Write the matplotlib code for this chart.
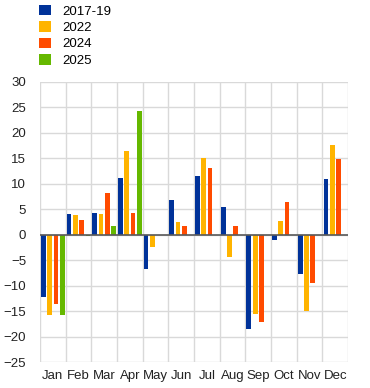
import numpy as np
import matplotlib
matplotlib.use("Agg")
import matplotlib.pyplot as plt
from matplotlib.patches import Patch

plt.rcParams['font.family'] = ['Liberation Sans', 'DejaVu Sans']

# === Data ===
months = ["Jan", "Feb", "Mar", "Apr", "May", "Jun", "Jul", "Aug", "Sep", "Oct", "Nov", "Dec"]
v_2017_19 = [-12.2, 4.1, 4.3, 11.2, -6.7, 6.9, 11.6, 5.5, -18.6, -1.0, -7.8, 11.0]
v_2022 = [-15.8, 3.8, 4.0, 16.5, -2.5, 2.4, 15.1, -4.3, -15.5, 2.7, -15.0, 17.6]
v_2024 = [-13.7, 2.9, 8.2, 4.3, 0.0, 1.8, 13.1, 1.8, -17.2, 6.5, -9.5, 14.9]
v_2025 = [-15.8, -0.3, 1.8, 24.3, np.nan, np.nan, np.nan, np.nan, np.nan, np.nan, np.nan, np.nan]

series = [("2017-19", v_2017_19, "#003299"),
          ("2022", v_2022, "#FFB400"),
          ("2024", v_2024, "#FF4B00"),
          ("2025", v_2025, "#65B800")]

# === Figure ===
fig = plt.figure(figsize=(3.7, 3.88), dpi=100)
ax = fig.add_axes([0.108, 0.067, 0.833, 0.722])

x = np.arange(len(months)) + 0.5
step = 0.245
for i, (label, vals, color) in enumerate(series):
    ax.bar(x + (i - 1.5) * step, vals, width=0.185, color=color, zorder=3)

ax.set_xlim(0, 12)
ax.set_ylim(-25, 30)
ax.set_yticks(np.arange(-25, 31, 5))
ax.set_xticks(x)
ax.set_xticklabels(months)
ax.set_xticks(np.arange(0, 13), minor=True)

ax.grid(True, axis='y', color='#d9d9d9', linewidth=1, zorder=0)
ax.grid(True, axis='x', which='minor', color='#d9d9d9', linewidth=1, zorder=0)
ax.axhline(0, color='#595959', linewidth=1.2, zorder=4)

for s in ax.spines.values():
    s.set_visible(False)
ax.tick_params(axis='both', which='both', length=0, labelsize=9.5, colors='#222222')
ax.tick_params(axis='x', pad=6)
ax.tick_params(axis='y', pad=10)

handles = [Patch(facecolor=c, label=l) for l, _, c in series]
fig.legend(handles=handles, loc='upper left', bbox_to_anchor=(0.085, 1.008),
           frameon=False, fontsize=9.5, handlelength=0.85, handleheight=0.85,
           labelspacing=0.27, handletextpad=0.9, borderaxespad=0.2)

fig.savefig("out.png", dpi=100)
